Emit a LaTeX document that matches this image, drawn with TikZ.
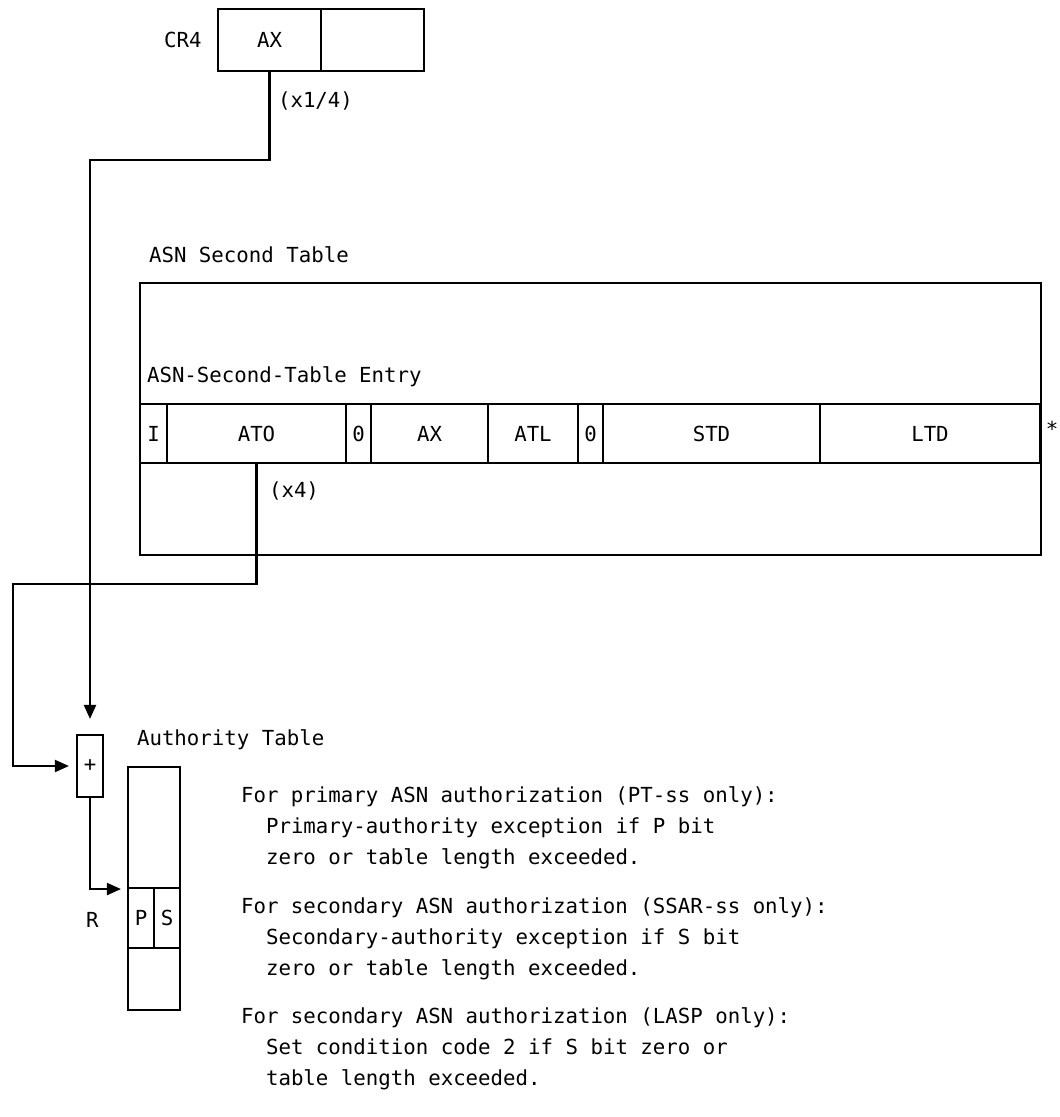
\documentclass[tikz,border=0pt]{standalone}
\usepackage{fontspec}
\setmonofont{DejaVu Sans Mono}
\usetikzlibrary{arrows.meta}

\begin{document}
\begin{tikzpicture}[x=0.02cm,y=-0.02cm,line width=1.2pt,
	>={Triangle[length=0.28cm,width=0.24cm]},
	font=\ttfamily\fontsize{11.8pt}{14pt}\selectfont]
\tikzstyle{field}=[draw,inner sep=0pt,minimum height=1.18cm]
\tikzstyle{lbl}=[anchor=base west,inner sep=0pt]
\useasboundingbox (0,0) rectangle (1060,1117);

	% control register 4
	\node[field,minimum width=2.06cm,minimum height=1.24cm] (crax) at (269.5,40) {AX};
	\node[field,minimum width=2.06cm,minimum height=1.24cm] (crrest) at (372.5,40) {};
	\node[lbl] (crname) at (163,47) {CR4};
	\node[lbl] (quarter) at (277,107) {(x1/4)};

	% ASN second table
	\node[draw,inner sep=0pt,minimum width=18.02cm,minimum height=5.44cm] (sectab) at (590.5,419) {};
	\node[lbl] (sectitle) at (148,262) {ASN Second Table};
	\node[lbl] (enttitle) at (146,382) {ASN-Second-Table Entry};

	\node[field,minimum width=0.54cm] (fi) at (153.5,433.5) {I};
	\node[field,minimum width=3.58cm] (ato) at (256.5,433.5) {ATO};
	\node[field,minimum width=0.5cm] (zeroa) at (358.5,433.5) {0};
	\node[field,minimum width=2.34cm] (eax) at (429.5,433.5) {AX};
	\node[field,minimum width=1.8cm] (atl) at (533,433.5) {ATL};
	\node[field,minimum width=0.5cm] (zerob) at (590.5,433.5) {0};
	\node[field,minimum width=4.34cm] (std) at (711.5,433.5) {STD};
	\node[field,minimum width=4.4cm] (ltd) at (930,433.5) {LTD};
	\node[anchor=base,inner sep=0pt] (star) at (1052,436) {*};
	\node[lbl] (four) at (268,497) {(x4)};

	% adder
	\node[draw,inner sep=0pt,minimum width=0.52cm,minimum height=1.24cm] (plus) at (90,766) {+};

	% authority table
	\node[lbl] (authtitle) at (136,745) {Authority Table};
	\node[draw,inner sep=0pt,minimum width=1.04cm,minimum height=2.42cm] (authtop) at (154,827.5) {};
	\node[draw,inner sep=0pt,minimum width=0.52cm,minimum height=1.2cm] (pbit) at (141,918) {P};
	\node[draw,inner sep=0pt,minimum width=0.52cm,minimum height=1.2cm] (sbit) at (167,918) {S};
	\node[draw,inner sep=0pt,minimum width=1.04cm,minimum height=1.24cm] (authbot) at (154,979) {};
	\node[lbl] (rname) at (85,927) {R};

	% notes
	\node[lbl] (pria) at (240,802) {For primary ASN authorization (PT-ss only):};
	\node[lbl] (prib) at (265,833) {Primary-authority exception if P bit};
	\node[lbl] (pric) at (265,864) {zero or table length exceeded.};
	\node[lbl] (seca) at (240,913) {For secondary ASN authorization (SSAR-ss only):};
	\node[lbl] (secb) at (265,944) {Secondary-authority exception if S bit};
	\node[lbl] (secc) at (265,975) {zero or table length exceeded.};
	\node[lbl] (lasa) at (240,1023) {For secondary ASN authorization (LASP only):};
	\node[lbl] (lasb) at (265,1054) {Set condition code 2 if S bit zero or};
	\node[lbl] (lasc) at (265,1085) {table length exceeded.};

	% connectors
	\coordinate (bendax) at (90,160);
	\coordinate (bendato) at (13,584);
	\draw[->,shorten >=0.3cm] (crax.south) |- (bendax) -- (plus.north);
	\draw[->,shorten >=0.14cm] (ato.south) |- (bendato) |- (plus.west);
	\draw[->,shorten >=0.12cm] (plus.south) |- (authtop.south west);
\end{tikzpicture}
\end{document}
